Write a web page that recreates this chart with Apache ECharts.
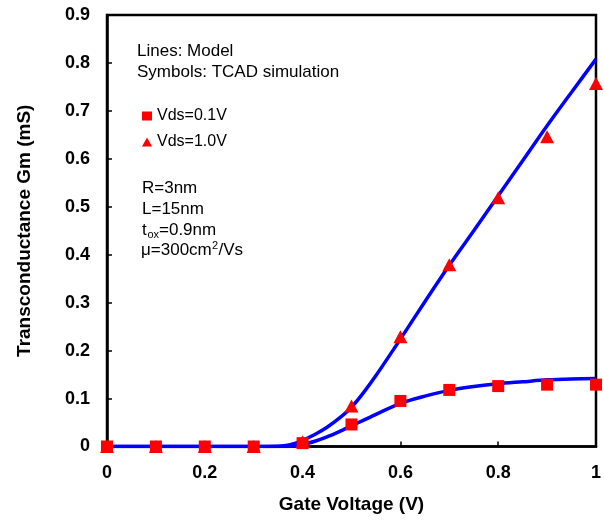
<!DOCTYPE html>
<html>
<head>
<meta charset="utf-8">
<script src="https://cdn.jsdelivr.net/npm/echarts@6/dist/echarts.min.js"></script>
<style>html,body{margin:0;padding:0;background:#fff;}#c{width:604px;height:520px;}</style>
</head>
<body>
<div id="c"></div>
<script>
// ---- data ----
var gateV = [0, 0.1, 0.2, 0.3, 0.4, 0.5, 0.6, 0.7, 0.8, 0.9, 1.0];
var tcadVds01 = [0, 0, 0, 0, 0.007, 0.046, 0.095, 0.118, 0.126, 0.129, 0.129];
var tcadVds10 = [0, 0, 0, 0, 0.01, 0.0845, 0.229, 0.379, 0.519, 0.646, 0.757];

var modelV = [0, 0.05, 0.1, 0.15, 0.2, 0.25, 0.3, 0.35, 0.375, 0.4, 0.425, 0.45, 0.475, 0.5, 0.525, 0.55, 0.6, 0.65, 0.7, 0.75, 0.8, 0.85, 0.9, 0.95, 1.0];
var modelVds01 = [0, 0, 0, 0, 0, 0, 0, 0, 0.0005, 0.004, 0.011, 0.02, 0.031, 0.043, 0.055, 0.067, 0.09, 0.105, 0.117, 0.125, 0.131, 0.135, 0.139, 0.141, 0.142];
var modelVds10 = [0, 0, 0, 0, 0, 0, 0, 0.0005, 0.004, 0.013, 0.025, 0.04, 0.059, 0.082, 0.113, 0.148, 0.224, 0.302, 0.378, 0.45, 0.523, 0.596, 0.669, 0.739, 0.808];

var xTickLabels = ['0', '0.2', '0.4', '0.6', '0.8', '1'];
var yTickLabels = ['0', '0.1', '0.2', '0.3', '0.4', '0.5', '0.6', '0.7', '0.8', '0.9'];

var legendNames = ['Vds=0.1V', 'Vds=1.0V'];
var xName = 'Gate Voltage (V)';
var yName = 'Transconductance Gm (mS)';

function pairs(xs, ys) { return xs.map(function (x, i) { return [x, ys[i]]; }); }

var FONT = 'Arial, "Liberation Sans", sans-serif';
var chart = echarts.init(document.getElementById('c'), null, { renderer: 'canvas' });

var noteFont = '17px ' + FONT;
var subFont = '11px ' + FONT;

chart.setOption({
  animation: false,
  backgroundColor: '#fff',
  grid: { left: 107, right: 4, top: 15, bottom: 73.5, show: true, borderColor: '#000', borderWidth: 2.5, backgroundColor: 'transparent' },
  xAxis: {
    type: 'value', min: 0, max: 1, interval: 0.2,
    name: xName, nameLocation: 'middle', nameGap: 49,
    nameTextStyle: { fontFamily: FONT, fontWeight: 'bold', fontSize: 19, color: '#000' },
    axisLine: { show: true, lineStyle: { color: '#000', width: 2.5 } },
    axisTick: { show: true, inside: true, length: 5, lineStyle: { color: '#000', width: 1.5 } },
    axisLabel: { margin: 18, fontFamily: FONT, fontWeight: 'bold', fontSize: 18, color: '#000',
      formatter: function (v) { return xTickLabels[Math.round(v / 0.2)]; } },
    splitLine: { show: false }
  },
  yAxis: {
    type: 'value', min: 0, max: 0.9, interval: 0.1,
    name: yName, nameLocation: 'middle', nameGap: 73, nameRotate: 90,
    nameTextStyle: { fontFamily: FONT, fontWeight: 'bold', fontSize: 19, color: '#000' },
    axisLine: { show: true, lineStyle: { color: '#000', width: 2.5 } },
    axisTick: { show: true, inside: true, length: 5, lineStyle: { color: '#000', width: 1.5 } },
    axisLabel: { margin: 17, fontFamily: FONT, fontWeight: 'bold', fontSize: 18, color: '#000',
      formatter: function (v) { return yTickLabels[Math.round(v * 10)]; } },
    splitLine: { show: false }
  },
  legend: {
    orient: 'vertical', left: 137, top: 103, itemGap: 10,
    itemWidth: 10, itemHeight: 9,
    textStyle: { fontFamily: FONT, fontSize: 16, color: '#000' },
    data: [{ name: legendNames[0], icon: 'rect', itemStyle: { opacity: 1 } }, { name: legendNames[1], icon: 'triangle', itemStyle: { opacity: 1 } }]
  },
  series: [
    { type: 'line', data: pairs(modelV, modelVds01), smooth: 0.3, showSymbol: false, symbol: 'none',
      lineStyle: { color: '#0000ff', width: 3.5 }, z: 2, silent: true },
    { type: 'line', data: pairs(modelV, modelVds10), smooth: 0.3, showSymbol: false, symbol: 'none',
      lineStyle: { color: '#0000ff', width: 3.5 }, z: 2, silent: true },
    { type: 'scatter', name: legendNames[1], data: pairs(gateV, tcadVds10), symbol: 'triangle', symbolSize: [14, 13],
      itemStyle: { color: '#ff0000', opacity: 1 }, z: 3, clip: false },
    { type: 'scatter', name: legendNames[0], data: pairs(gateV, tcadVds01), symbol: 'rect', symbolSize: 12,
      itemStyle: { color: '#ff0000', opacity: 1 }, z: 4, clip: false }
  ],
  graphic: [
    { type: 'text', x: 137, y: 51, style: { text: 'Lines: Model', font: noteFont, fill: '#000', verticalAlign: 'middle' } },
    { type: 'text', x: 137, y: 72, style: { text: 'Symbols: TCAD simulation', font: noteFont, fill: '#000', verticalAlign: 'middle' } },
    { type: 'text', x: 142, y: 188, style: { text: 'R=3nm', font: noteFont, fill: '#000', verticalAlign: 'middle' } },
    { type: 'text', x: 142, y: 209, style: { text: 'L=15nm', font: noteFont, fill: '#000', verticalAlign: 'middle' } },
    { type: 'text', x: 142, y: 230, style: { text: 't', font: noteFont, fill: '#000', verticalAlign: 'middle' } },
    { type: 'text', x: 147.5, y: 235, style: { text: 'ox', font: subFont, fill: '#000', verticalAlign: 'middle' } },
    { type: 'text', x: 159, y: 230, style: { text: '=0.9nm', font: noteFont, fill: '#000', verticalAlign: 'middle' } },
    { type: 'text', x: 141, y: 250, style: { text: 'μ=300cm', font: noteFont, fill: '#000', verticalAlign: 'middle' } },
    { type: 'text', x: 212, y: 246, style: { text: '2', font: subFont, fill: '#000', verticalAlign: 'middle' } },
    { type: 'text', x: 218.5, y: 250, style: { text: '/Vs', font: noteFont, fill: '#000', verticalAlign: 'middle' } }
  ]
});
</script>
</body>
</html>
